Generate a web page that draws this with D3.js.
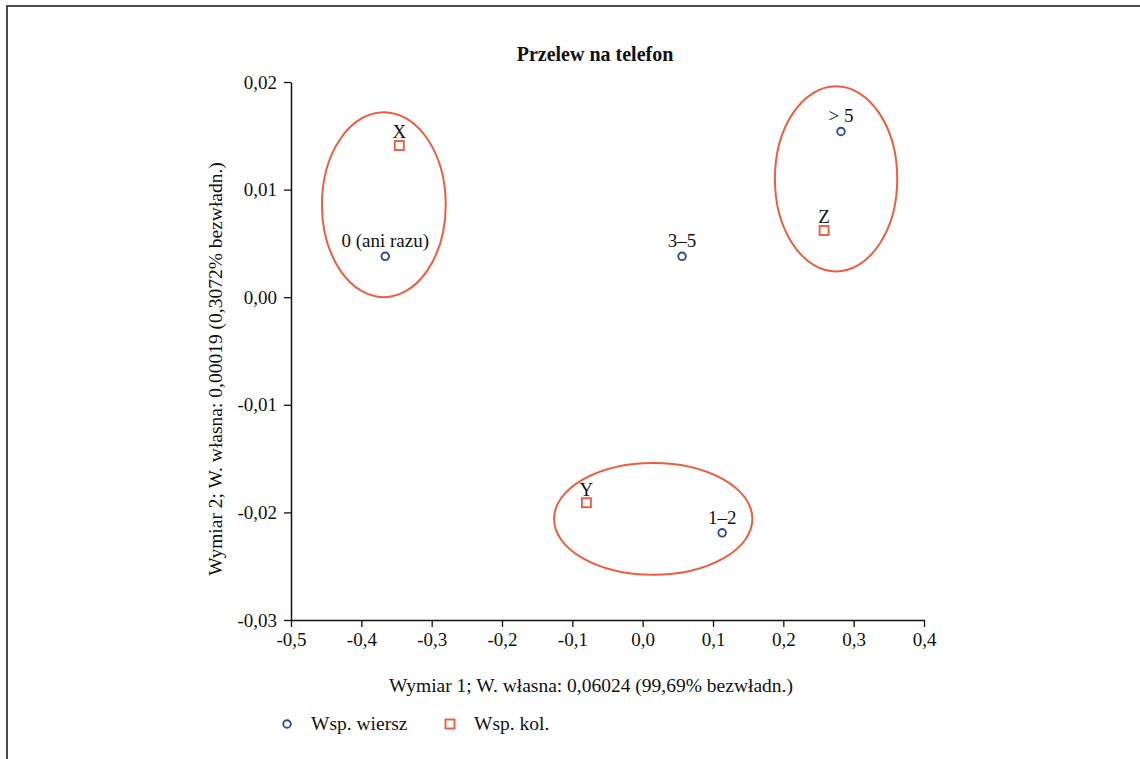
<!DOCTYPE html>
<html>
<head>
<meta charset="utf-8">
<script src="https://cdn.jsdelivr.net/npm/d3@7"></script>
<style>
  body { margin: 0; background: #fff; }
  text { font-family: "Liberation Serif", "DejaVu Serif", serif; fill: #111; }
</style>
</head>
<body>
<div id="chart"></div>
<script>
// row points (Wsp. wiersz)
var rowLabels = ["0 (ani razu)", "1–2", "3–5", "> 5"];
var rowX = [-0.366, 0.113, 0.056, 0.282];
var rowY = [0.0038, -0.0219, 0.0038, 0.0154];

// column points (Wsp. kol.)
var colLabels = ["X", "Y", "Z"];
var colX = [-0.346, -0.080, 0.258];
var colY = [0.0141, -0.0191, 0.0062];

// group ellipses (centre and radii in data units)
var ellCx = [-0.368, 0.275, 0.015];
var ellCy = [0.0086, 0.0110, -0.0206];
var ellRx = [0.088, 0.087, 0.141];
var ellRy = [0.0086, 0.0086, 0.0052];

var xTicks = [-0.5, -0.4, -0.3, -0.2, -0.1, 0.0, 0.1, 0.2, 0.3, 0.4];
var yTicks = [0.02, 0.01, 0.00, -0.01, -0.02, -0.03];

var width = 1140,
  height = 759,
  mLeft = 291,
  mRight = 924,
  mTop = 82,
  mBottom = 620,
  fontSize = 19;

var blue = "#2e4c8c",
  red = "#ec5e40";

var svg = d3.select("#chart")
  .append("svg")
  .attr("width", width)
  .attr("height", height);

// outer frame (runs off the right and bottom edge)
svg.append("rect")
  .attr("x", 7)
  .attr("y", 6)
  .attr("width", 1200)
  .attr("height", 900)
  .attr("fill", "none")
  .attr("stroke", "#4a4a4a")
  .attr("stroke-width", 2);

var x = d3.scaleLinear().domain([-0.5, 0.4]).range([mLeft, mRight]);
var y = d3.scaleLinear().domain([-0.03, 0.02]).range([mBottom, mTop]);

// comma decimals, plain hyphen for minus
var fmtX = function(d) {
  return d3.format(".1f")(d).replace(".", ",").replace("−", "-");
};
var fmtY = function(d) {
  return d3.format(".2f")(d).replace(".", ",").replace("−", "-");
};

// axes
var xAxis = svg.append("g")
  .attr("transform", "translate(0," + mBottom + ")")
  .call(d3.axisBottom(x).tickValues(xTicks).tickFormat(fmtX).tickSize(7).tickSizeOuter(0));
var yAxis = svg.append("g")
  .attr("transform", "translate(" + mLeft + ",0)")
  .call(d3.axisLeft(y).tickValues(yTicks).tickFormat(fmtY).tickSize(7).tickSizeOuter(0));

[xAxis, yAxis].forEach(function(g) {
  g.select(".domain").attr("stroke", "#111").attr("stroke-width", 1.5);
  g.selectAll(".tick line").attr("stroke", "#111").attr("stroke-width", 1.3);
  g.selectAll(".tick text")
    .style("font-family", "'Liberation Serif', serif")
    .style("font-size", fontSize + "px")
    .attr("fill", "#111");
});
xAxis.selectAll(".tick text").attr("y", 13);
yAxis.selectAll(".tick text").attr("x", -14);

// title and axis titles
svg.append("text")
  .attr("x", 595)
  .attr("y", 61)
  .attr("text-anchor", "middle")
  .style("font-size", "20px")
  .style("font-weight", "bold")
  .text("Przelew na telefon");

svg.append("text")
  .attr("x", 591)
  .attr("y", 692)
  .attr("text-anchor", "middle")
  .style("font-size", "19.5px")
  .text("Wymiar 1; W. własna: 0,06024 (99,69% bezwładn.)");

svg.append("text")
  .attr("transform", "translate(222,369) rotate(-90)")
  .attr("text-anchor", "middle")
  .style("font-size", "19.5px")
  .text("Wymiar 2; W. własna: 0,00019 (0,3072% bezwładn.)");

// ellipses
svg.selectAll("ellipse.grp")
  .data(d3.range(ellCx.length))
  .enter()
  .append("ellipse")
  .attr("class", "grp")
  .attr("cx", function(i) { return x(ellCx[i]); })
  .attr("cy", function(i) { return y(ellCy[i]); })
  .attr("rx", function(i) { return x(ellRx[i]) - x(0); })
  .attr("ry", function(i) { return y(0) - y(ellRy[i]); })
  .attr("fill", "none")
  .attr("stroke", red)
  .attr("stroke-width", 2);

// row points
svg.selectAll("circle.row")
  .data(d3.range(rowLabels.length))
  .enter()
  .append("circle")
  .attr("class", "row")
  .attr("cx", function(i) { return x(rowX[i]); })
  .attr("cy", function(i) { return y(rowY[i]); })
  .attr("r", 3.8)
  .attr("fill", "none")
  .attr("stroke", blue)
  .attr("stroke-width", 1.9);

svg.selectAll("text.row")
  .data(d3.range(rowLabels.length))
  .enter()
  .append("text")
  .attr("class", "row")
  .attr("x", function(i) { return x(rowX[i]); })
  .attr("y", function(i) { return y(rowY[i]) - 9; })
  .attr("text-anchor", "middle")
  .style("font-size", fontSize + "px")
  .text(function(i) { return rowLabels[i]; });

// column points
svg.selectAll("rect.col")
  .data(d3.range(colLabels.length))
  .enter()
  .append("rect")
  .attr("class", "col")
  .attr("x", function(i) { return x(colX[i]) - 4.5; })
  .attr("y", function(i) { return y(colY[i]) - 4.5; })
  .attr("width", 9)
  .attr("height", 9)
  .attr("fill", "none")
  .attr("stroke", red)
  .attr("stroke-width", 1.9);

svg.selectAll("text.col")
  .data(d3.range(colLabels.length))
  .enter()
  .append("text")
  .attr("class", "col")
  .attr("x", function(i) { return x(colX[i]); })
  .attr("y", function(i) { return y(colY[i]) - 7; })
  .attr("text-anchor", "middle")
  .style("font-size", fontSize + "px")
  .text(function(i) { return colLabels[i]; });

// legend
var legend = svg.append("g").attr("transform", "translate(0,724)");
legend.append("circle")
  .attr("cx", 287).attr("cy", 0).attr("r", 3.8)
  .attr("fill", "none").attr("stroke", blue).attr("stroke-width", 1.9);
legend.append("text")
  .attr("x", 311).attr("y", 6)
  .style("font-size", "19.5px")
  .text("Wsp. wiersz");
legend.append("rect")
  .attr("x", 445.5).attr("y", -4.5).attr("width", 9).attr("height", 9)
  .attr("fill", "none").attr("stroke", red).attr("stroke-width", 1.9);
legend.append("text")
  .attr("x", 474).attr("y", 6)
  .style("font-size", "19.5px")
  .text("Wsp. kol.");
</script>
</body>
</html>
